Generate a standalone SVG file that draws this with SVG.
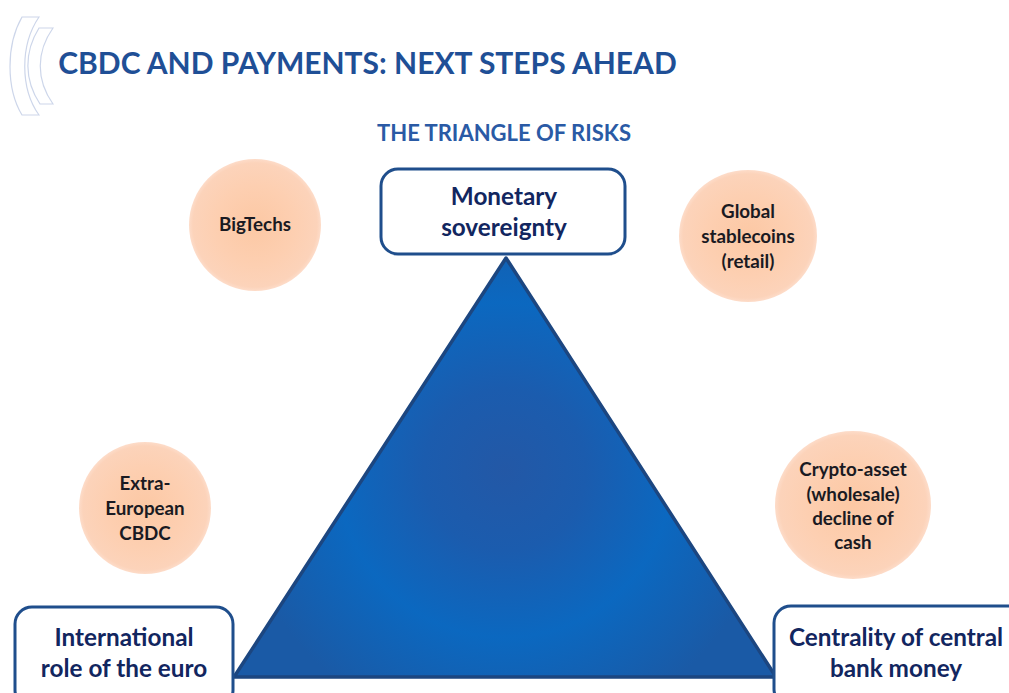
<svg xmlns="http://www.w3.org/2000/svg" width="1009" height="693" viewBox="0 0 1009 693">
<style>
text{font-family:"Lato","Open Sans","Liberation Sans",sans-serif;font-weight:700;text-anchor:middle}
.title{font-size:30px;fill:#1f4f96}
.sub{font-size:22px;fill:#2a5aa5}
.box{fill:#fff;stroke:#1f4e8c;stroke-width:3}
.boxt{font-size:24.3px;fill:#12265f}
.ct{font-size:18.8px;fill:#1a1a22}
.circ{fill:url(#peach)}
.logo{fill:none;stroke:#cdd6ea;stroke-width:1.2}
</style>
<defs>
<radialGradient id="peach" cx="50%" cy="50%" r="50%">
<stop offset="0" stop-color="#fcc8a4"/><stop offset="0.6" stop-color="#fdcfb1"/><stop offset="0.94" stop-color="#fcd3ba"/><stop offset="1" stop-color="#fddcc9"/>
</radialGradient>
<radialGradient id="tri" gradientUnits="userSpaceOnUse" cx="505" cy="470" r="270">
<stop offset="0" stop-color="#2358a6"/><stop offset="0.3" stop-color="#1b5cae"/><stop offset="0.62" stop-color="#0b68c0"/><stop offset="1" stop-color="#1a5aa6"/>
</radialGradient>
</defs>
<rect width="1009" height="693" fill="#fff"/>
<g id="logo">
<path class="logo" d="M22 17H39C20 45 20 88 39 115H22C6 88 6 45 22 17Z"/>
<path class="logo" d="M39 28H53C36 52 36 80 53 104H40C24 80 24 52 39 28Z"/>
</g>
<text class="title" x="367.5" y="74">CBDC AND PAYMENTS: NEXT STEPS AHEAD</text>
<text class="sub" x="504" y="141">THE TRIANGLE OF RISKS</text>
<g id="triangle"><path d="M506 258L776 677H234Z" fill="url(#tri)" stroke="#1c4680" stroke-width="3.5" stroke-linejoin="round"/></g>
<g id="connectors"></g>
<g id="monetary"><rect class="box" x="381" y="169" width="244" height="85" rx="17"/>
<text class="boxt" x="504" y="205">Monetary</text><text class="boxt" x="504" y="236">sovereignty</text></g>
<g id="euro"><rect class="box" x="15" y="607" width="218" height="100" rx="17"/>
<text class="boxt" x="124" y="646">International</text><text class="boxt" x="124" y="677">role of the euro</text></g>
<g id="central"><rect class="box" x="774" y="606" width="250" height="100" rx="17"/>
<text class="boxt" x="896" y="646">Centrality of central</text><text class="boxt" x="896" y="677">bank money</text></g>
<g id="bigtechs"><circle class="circ" cx="255" cy="225" r="66"/><text class="ct" x="255" y="231">BigTechs</text></g>
<g id="stablecoins"><ellipse class="circ" cx="748" cy="236" rx="69" ry="66"/>
<text class="ct" x="748" y="218">Global</text><text class="ct" x="748" y="243">stablecoins</text><text class="ct" x="748" y="268">(retail)</text></g>
<g id="extra"><circle class="circ" cx="145" cy="508" r="66"/>
<text class="ct" x="145" y="490">Extra-</text><text class="ct" x="145" y="515">European</text><text class="ct" x="145" y="540">CBDC</text></g>
<g id="crypto"><ellipse class="circ" cx="853" cy="505" rx="78" ry="74"/>
<text class="ct" x="853" y="476">Crypto-asset</text><text class="ct" x="853" y="501">(wholesale)</text><text class="ct" x="853" y="525">decline of</text><text class="ct" x="853" y="549">cash</text></g>
</svg>
